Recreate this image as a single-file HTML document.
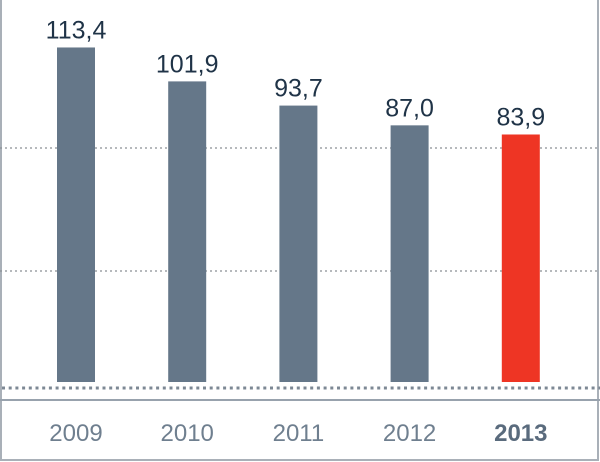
<!DOCTYPE html>
<html><head><meta charset="utf-8"><style>
body{margin:0;background:#fff;font-family:"Liberation Sans",sans-serif}
svg{display:block}
</style></head><body>
<svg width="600" height="462">
<rect x="1" y="-2" width="597" height="462" fill="none" stroke="#a9b0b8" stroke-width="2"/>
<line x1="0" y1="148" x2="600" y2="148" stroke="#8a8f95" stroke-width="1.3" stroke-dasharray="2,3"/>
<line x1="0" y1="271" x2="600" y2="271" stroke="#8a8f95" stroke-width="1.3" stroke-dasharray="2,3"/>
<line x1="2" y1="388" x2="600" y2="388" stroke="#7d8894" stroke-width="3" stroke-dasharray="3,3.7"/>
<line x1="0" y1="400" x2="600" y2="400" stroke="#98a2ad" stroke-width="2"/>
<g id="bars"></g>
</svg>
<script>
const categories=["2009","2010","2011","2012","2013"];
const values=[113.4,101.9,93.7,87.0,83.9];
const labels=["113,4","101,9","93,7","87,0","83,9"];
const svg=document.getElementById('bars');
const NS="http://www.w3.org/2000/svg";
const y0=382, k=2.95;
function yScale(v){return y0-v*k;}
function xScale(i){return 76+i*111.2;}
categories.forEach((c,i)=>{
  const cx=xScale(i), top=yScale(values[i]);
  const last=i===categories.length-1;
  const r=document.createElementNS(NS,'rect');
  
  
  r.setAttribute('x',cx-19);r.setAttribute('y',top);
  r.setAttribute('width',38);r.setAttribute('height',y0-top);
  r.setAttribute('fill',last?'#ee3524':'#657789');
  svg.appendChild(r);
  const t=document.createElementNS(NS,'text');
  
  
  t.setAttribute('x',cx);t.setAttribute('y',top-9);
  t.setAttribute('text-anchor','middle');t.setAttribute('font-size','25');
  t.setAttribute('fill','#1f3347');
  t.textContent=labels[i];
  svg.appendChild(t);
  const xl=document.createElementNS(NS,'text');
  
  
  xl.setAttribute('x',cx);xl.setAttribute('y',441);
  xl.setAttribute('text-anchor','middle');xl.setAttribute('font-size','24');
  xl.setAttribute('fill',last?'#5a6b7d':'#6f7f8f');
  if(last)xl.setAttribute('font-weight','bold');
  xl.textContent=c;
  svg.appendChild(xl);
});
</script>
</body></html>
